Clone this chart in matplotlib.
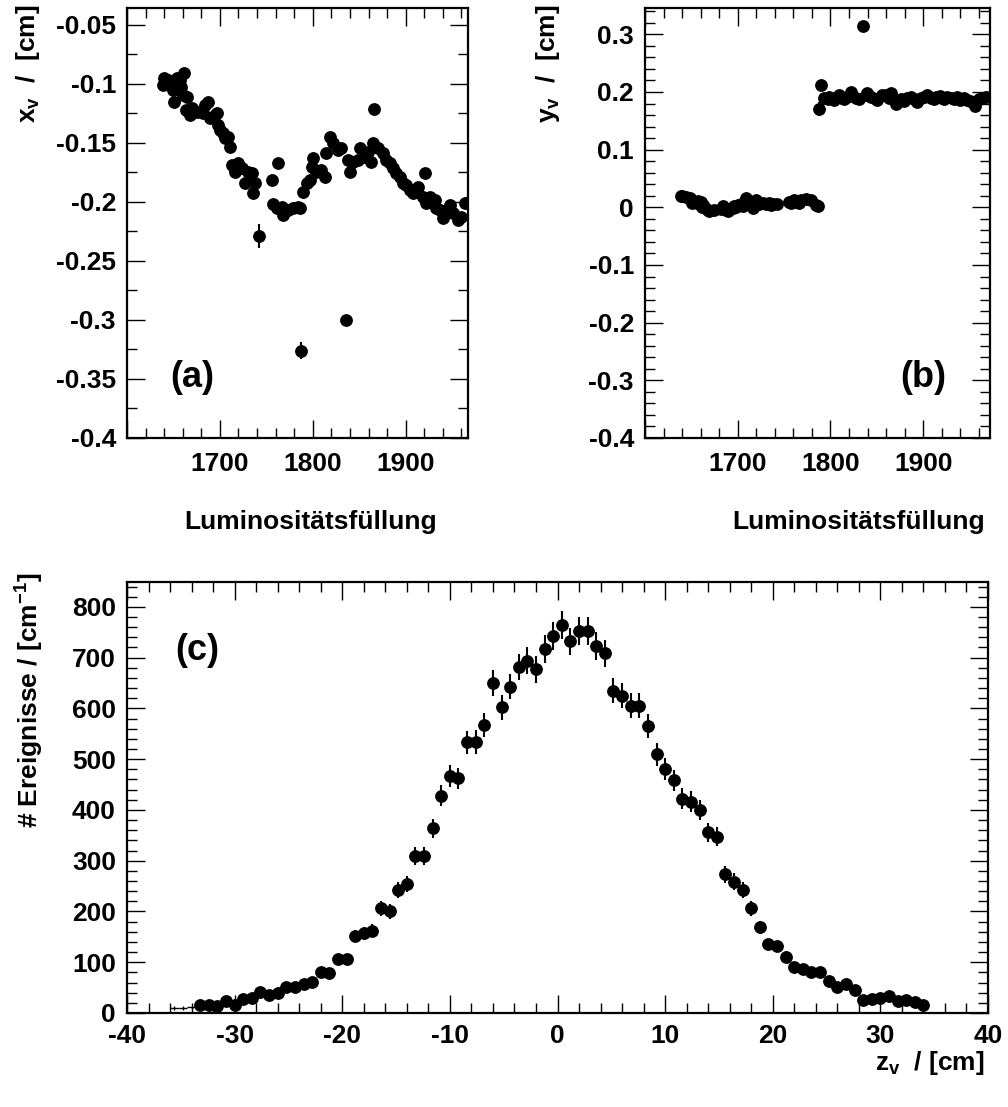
import numpy as np
import matplotlib
matplotlib.use("Agg")
import matplotlib.pyplot as plt
from matplotlib.ticker import MultipleLocator, FuncFormatter

# ---------------- data ----------------
# luminosity fills (shared by panels a and b)
fills = [1638.4, 1640.1, 1644.4, 1648.0, 1649.8, 1650.9, 1653.4, 1657.0, 1658.1, 1660.6,
         1661.6, 1663.0, 1664.2, 1667.7, 1669.5, 1674.9, 1682.1, 1683.9, 1687.5, 1689.2,
         1694.6, 1696.4, 1698.2, 1700.0, 1703.6, 1705.4, 1709.0, 1710.8, 1712.5, 1716.1,
         1719.7, 1723.3, 1726.9, 1730.5, 1734.1, 1735.8, 1737.6, 1742.0, 1755.6, 1757.3,
         1760.9, 1762.7, 1766.3, 1768.1, 1773.5, 1778.9, 1784.2, 1786.0, 1787.8, 1789.6,
         1793.2, 1796.8, 1798.6, 1800.4, 1803.9, 1809.3, 1812.9, 1814.7, 1818.3, 1821.9,
         1827.2, 1830.8, 1835.5, 1838.0, 1839.8, 1843.4, 1848.7, 1850.5, 1855.9, 1859.5,
         1863.1, 1864.9, 1865.6, 1870.3, 1875.6, 1879.2, 1882.8, 1886.4, 1890.0, 1893.5,
         1897.1, 1900.7, 1904.3, 1907.9, 1911.5, 1913.3, 1918.6, 1920.4, 1922.2, 1925.8,
         1931.2, 1933.0, 1936.6, 1940.1, 1943.7, 1947.3, 1950.9, 1956.3, 1959.9, 1963.4,
         1968.0]

xv = [-0.1008, -0.0952, -0.0966, -0.1008, -0.1051, -0.1150, -0.0952, -0.0966, -0.1023, -0.1093,
      -0.0910, -0.1220, -0.1107, -0.1263, -0.1206, -0.1234, -0.1249, -0.1178, -0.1150, -0.1291,
      -0.1263, -0.1249, -0.1347, -0.1390, -0.1418, -0.1460, -0.1446, -0.1531, -0.1686, -0.1743,
      -0.1672, -0.1715, -0.1842, -0.1743, -0.1757, -0.1927, -0.1842, -0.2288, -0.1814, -0.2017,
      -0.2054, -0.1672, -0.2040, -0.2110, -0.2068, -0.2054, -0.2040, -0.2054, -0.3260, -0.1912,
      -0.1842, -0.1814, -0.1701, -0.1630, -0.1743, -0.1729, -0.1785, -0.1588, -0.1446, -0.1503,
      -0.1559, -0.1545, -0.3000, -0.1644, -0.1743, -0.1658, -0.1644, -0.1545, -0.1616, -0.1573,
      -0.1658, -0.1503, -0.1215, -0.1545, -0.1588, -0.1644, -0.1672, -0.1715, -0.1757, -0.1785,
      -0.1842, -0.1856, -0.1898, -0.1927, -0.1912, -0.1870, -0.1955, -0.1757, -0.2011, -0.1955,
      -0.1983, -0.2054, -0.2068, -0.2138, -0.2096, -0.2025, -0.2096, -0.2153, -0.2124, -0.2011,
      -0.2000]
xv_err = [0.003] * len(fills)
xv_err[37] = 0.010
xv_err[48] = 0.007
xv_err[49] = 0.006

yv = [0.020, 0.019, 0.018, 0.017, 0.012, 0.008, 0.010, 0.011, 0.006, 0.010,
      0.001, 0.004, -0.002, -0.004, -0.006, -0.005, -0.003, 0.002, -0.004, -0.006,
      -0.001, 0.003, 0.000, 0.004, 0.006, 0.002, 0.016, 0.010, 0.005, -0.002,
      0.012, 0.006, 0.008, 0.005, 0.007, 0.004, 0.006, 0.006, 0.009, 0.008,
      0.012, 0.010, 0.008, 0.012, 0.014, 0.012, 0.004, 0.002, 0.170, 0.212,
      0.190, 0.188, 0.192, 0.190, 0.186, 0.195, 0.190, 0.188, 0.192, 0.200,
      0.190, 0.188, 0.314, 0.195, 0.198, 0.192, 0.188, 0.186, 0.195, 0.194,
      0.190, 0.198, 0.192, 0.180, 0.188, 0.185, 0.190, 0.192, 0.188, 0.182,
      0.190, 0.192, 0.194, 0.190, 0.188, 0.192, 0.193, 0.190, 0.188, 0.192,
      0.190, 0.188, 0.191, 0.186, 0.189, 0.186, 0.185, 0.176, 0.188, 0.190,
      0.192]
yv_err = [0.003] * len(fills)
yv_err[48] = 0.012
yv_err[49] = 0.008

# z-vertex histogram: 100 bins of 0.8 cm from -40 to 40
z_edges_lo, z_edges_hi, z_nbins = -40.0, 40.0, 100
z_first_bin = 8
z_counts = [16, 16, 14, 24, 16, 27, 29, 41, 35, 39,
            52, 52, 58, 62, 81, 79, 106, 106, 152, 157,
            162, 206, 200, 242, 254, 310, 310, 364, 428, 467,
            462, 533, 534, 567, 650, 602, 643, 682, 694, 677,
            717, 742, 765, 732, 753, 753, 723, 709, 635, 625,
            605, 605, 566, 510, 481, 458, 422, 416, 400, 356,
            347, 273, 259, 242, 206, 169, 135, 131, 111, 91,
            86, 80, 81, 63, 52, 57, 45, 26, 27, 29,
            33, 24, 26, 22, 16]
# sparsely populated bins in the far tail
z_tail_first_bin = 5
z_tail_counts = [10, 10, 11]

# ---------------- style ----------------
plt.rcParams['font.family'] = ['Liberation Sans', 'DejaVu Sans']
plt.rcParams['font.weight'] = 'bold'
plt.rcParams['axes.unicode_minus'] = False
plt.rcParams['mathtext.fontset'] = 'custom'
plt.rcParams['mathtext.rm'] = 'Liberation Sans:bold'
plt.rcParams['mathtext.it'] = 'Liberation Sans:bold'
plt.rcParams['mathtext.bf'] = 'Liberation Sans:bold'

FS = 19
W, H = 1008, 1107
fig = plt.figure(figsize=(W / 100, H / 100), dpi=100)


def px_axes(l, t, r, b):
    return fig.add_axes([l / W, 1 - b / H, (r - l) / W, (b - t) / H])


def fmt_g(v, p):
    return '%g' % round(v, 6)


def fmt_fill(v, p):
    return '' if v < 1650 else '%g' % v


def style(ax, xmaj, xmin, ymaj, ymin, xpad, ypad, xfmt=fmt_g):
    ax.xaxis.set_major_locator(MultipleLocator(xmaj))
    ax.xaxis.set_minor_locator(MultipleLocator(xmin))
    ax.yaxis.set_major_locator(MultipleLocator(ymaj))
    ax.yaxis.set_minor_locator(MultipleLocator(ymin))
    ax.tick_params(which='both', direction='in', top=True, right=True,
                   labelsize=FS, color='black')
    ax.tick_params(which='major', length=13, width=1.0)
    ax.tick_params(which='minor', length=7, width=1.0)
    ax.tick_params(axis='x', which='major', pad=xpad)
    ax.tick_params(axis='y', which='major', pad=ypad)
    for s in ax.spines.values():
        s.set_linewidth(1.6)
    ax.xaxis.set_major_formatter(FuncFormatter(xfmt))
    ax.yaxis.set_major_formatter(FuncFormatter(fmt_g))
    for lab in ax.get_xticklabels() + ax.get_yticklabels():
        lab.set_fontweight('bold')


mkw = dict(fmt='o', color='black', ms=8.2, elinewidth=1.5, capsize=0)

# ---- panel (a): x vertex per fill
ax_a = px_axes(127, 8, 468, 438)
ax_a.errorbar(fills, xv, yerr=xv_err, **mkw)
ax_a.set_xlim(1600, 1967)
ax_a.set_ylim(-0.4, -0.0356)
style(ax_a, 100, 20, 0.05, 0.025, 10, 8, fmt_fill)
ax_a.text(0.126, 0.14, '(a)', transform=ax_a.transAxes, fontsize=26,
          fontweight='bold', va='center', ha='left')

# ---- panel (b): y vertex per fill
ax_b = px_axes(645, 8, 990, 438)
ax_b.errorbar(fills, yv, yerr=yv_err, **mkw)
ax_b.set_xlim(1600, 1972)
ax_b.set_ylim(-0.4, 0.3456)
style(ax_b, 100, 20, 0.1, 0.02, 10, 8, fmt_fill)
ax_b.text(0.739, 0.14, '(b)', transform=ax_b.transAxes, fontsize=26,
          fontweight='bold', va='center', ha='left')

# ---- panel (c): z vertex distribution
bw = (z_edges_hi - z_edges_lo) / z_nbins
z_centers = z_edges_lo + bw * (np.arange(z_nbins) + 0.5)
zc = z_centers[z_first_bin:z_first_bin + len(z_counts)]
zn = np.array(z_counts, dtype=float)
zt = z_centers[z_tail_first_bin:z_tail_first_bin + len(z_tail_counts)]
ztn = np.array(z_tail_counts, dtype=float)

ax_c = px_axes(127, 582, 988, 1013)
ax_c.errorbar(zt, ztn, xerr=bw / 2, yerr=np.sqrt(ztn), fmt='none',
              ecolor='black', elinewidth=1.0, capsize=0)
ax_c.errorbar(zc, zn, yerr=np.sqrt(zn), **mkw)
ax_c.set_xlim(z_edges_lo, z_edges_hi)
ax_c.set_ylim(0, 849)
style(ax_c, 10, 2, 100, 20, 8, 8)
ax_c.text(0.0557, 0.842, '(c)', transform=ax_c.transAxes, fontsize=26,
          fontweight='bold', va='center', ha='left')

# ---- axis titles
fig.text(437 / W, 1 - 522 / H, 'Luminositätsfüllung', fontsize=FS,
         fontweight='bold', ha='right', va='center')
fig.text(985 / W, 1 - 522 / H, 'Luminositätsfüllung', fontsize=FS,
         fontweight='bold', ha='right', va='center')
fig.text(28 / W, 1 - 5 / H, r'$x_v$  /  [cm]', fontsize=FS, rotation=90,
         ha='center', va='top')
fig.text(548 / W, 1 - 5 / H, r'$y_v$  /  [cm]', fontsize=FS, rotation=90,
         ha='center', va='top')
fig.text(30 / W, 1 - 572 / H, r'# Ereignisse / [cm$^{-1}$]', fontsize=FS,
         rotation=90, ha='center', va='top')
fig.text(985 / W, 1 - 1063 / H, r'$z_v$  / [cm]', fontsize=FS,
         ha='right', va='center')

fig.savefig('out.png', dpi=100)
